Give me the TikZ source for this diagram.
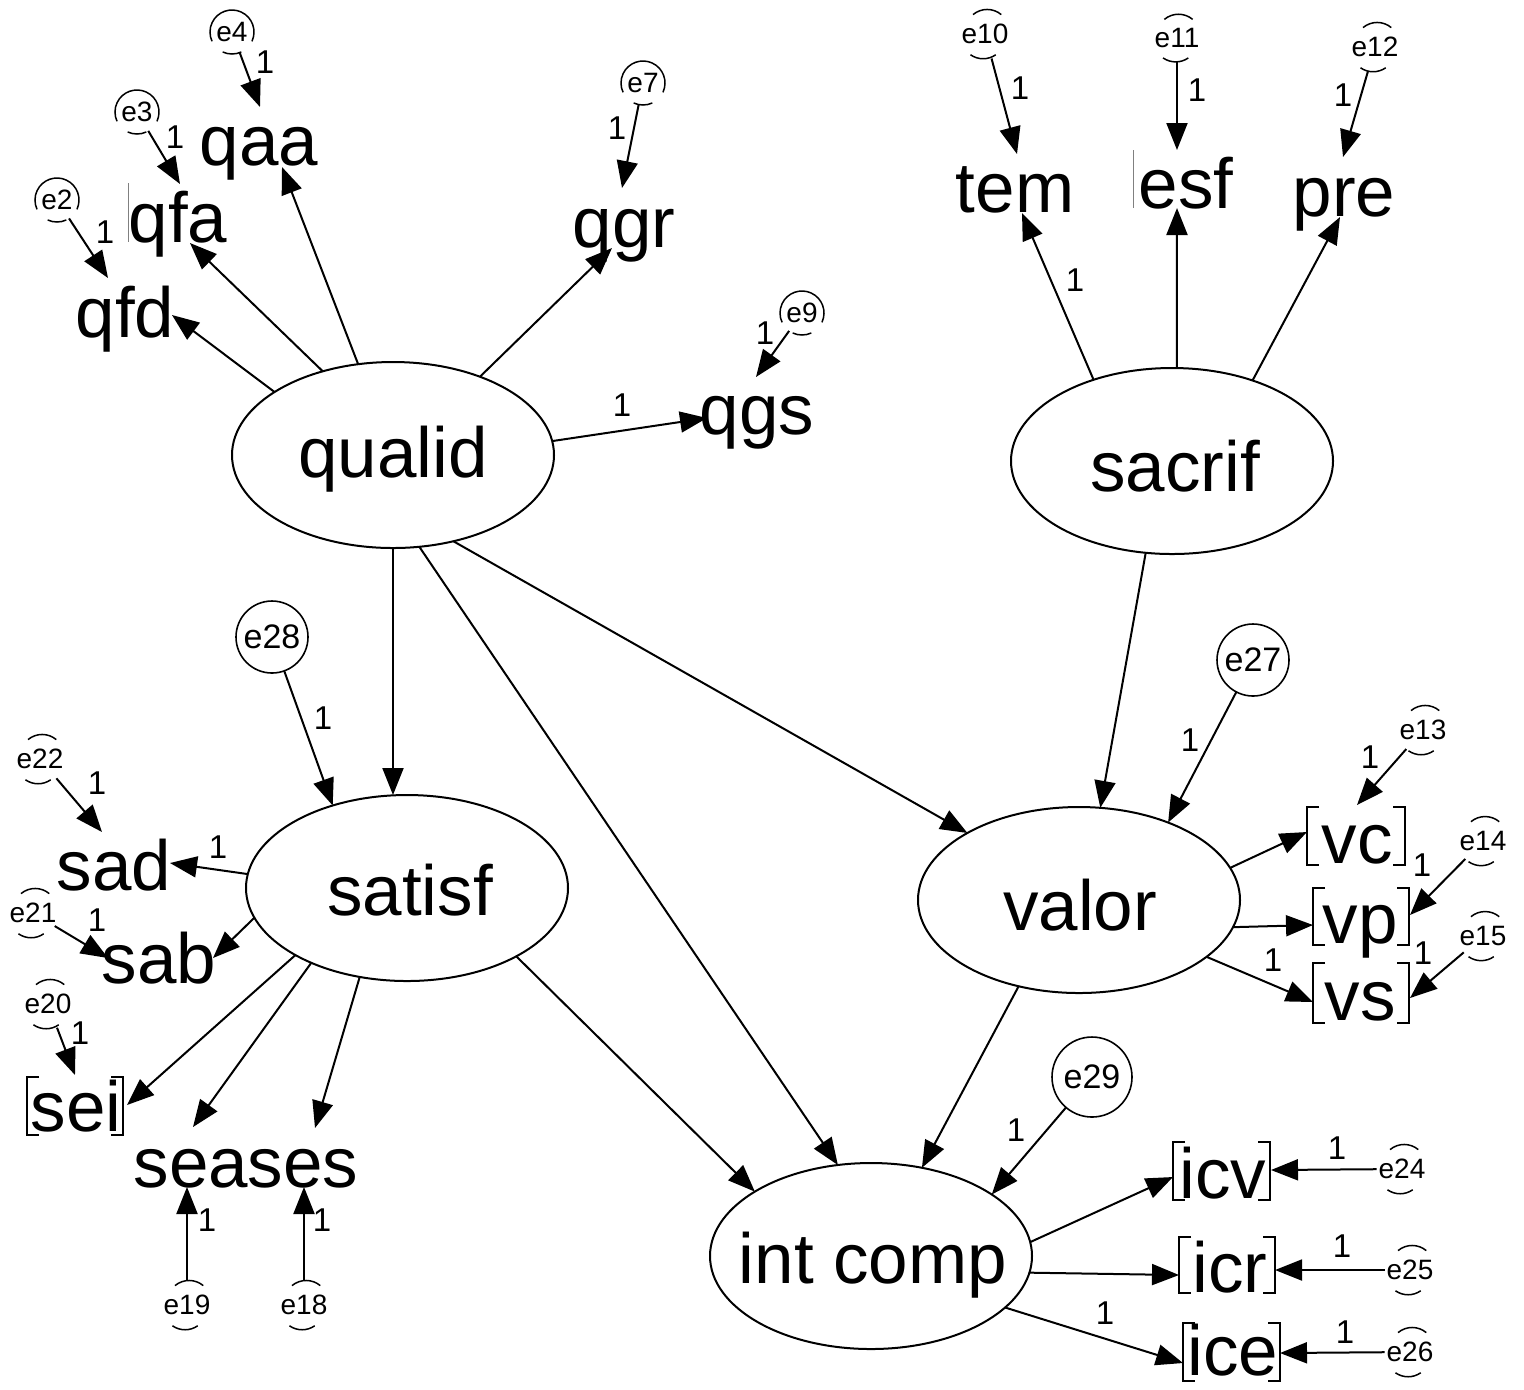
\documentclass[tikz,border=0pt]{standalone}
\usepackage{fontspec}
\setmainfont{Liberation Sans}
\usetikzlibrary{arrows.meta,shapes.geometric}
\newcommand\ErrTB[1]{\draw[ering] (#1.50) arc[start angle=50,end angle=130,radius=22];
  \draw[ering] (#1.235) arc[start angle=235,end angle=305,radius=22];}
\newcommand\ErrMost[1]{\draw[ering] (#1.335) arc[start angle=-25,end angle=205,radius=22];
  \draw[ering] (#1.245) arc[start angle=245,end angle=295,radius=22];}
\newcommand\Brk[4]{\draw[brk] ({#1+12},#3) -- (#1,#3) -- (#1,#4) -- ({#1+12},#4);
  \draw[brk] ({#2-12},#3) -- (#2,#3) -- (#2,#4) -- ({#2-12},#4);}
\begin{document}
\begin{tikzpicture}[x=0.5pt,y=-0.5pt,
  lat/.style={draw, line width=1pt, ellipse, minimum width=161pt, minimum height=93pt, inner sep=0pt, outer sep=0pt},
  big/.style={font=\fontsize{35.5}{40}\selectfont, inner sep=0pt, outer sep=0pt, anchor=base},
  errs/.style={circle, minimum size=22pt, inner sep=0pt, outer sep=0pt, font=\fontsize{14}{15}\selectfont},
  errm/.style={circle, minimum size=22pt, inner sep=0pt, outer sep=0pt, font=\fontsize{14}{15}\selectfont},
  errb/.style={circle, draw, line width=0.8pt, inner sep=0pt, outer sep=0pt, font=\fontsize{17}{18}\selectfont},
  one/.style={font=\fontsize{16.5}{17}\selectfont, inner sep=0pt},
  arr/.style={line width=1pt, -{Triangle[length=13.5pt,width=10.5pt]}},
  ering/.style={line width=0.75pt},
  brk/.style={line width=0.6pt},
  thinmark/.style={line width=0.5pt, gray}
]
\useasboundingbox (0,0) rectangle (1524,1389);

% latent variables
\node[lat] (qualid) at (393,455) {};
\node[lat] (sacrif) at (1172,461) {};
\node[lat] (satisf) at (407,888) {};
\node[lat] (valor) at (1079,900) {};
\node[lat] (intcomp) at (871,1256) {};
\node[big] (qualidT) at (393,477) {qualid};
\node[big] (sacrifT) at (1175,491) {sacrif};
\node[big] (satisfT) at (410,915) {satisf};
\node[big] (valorT) at (1080,930) {valor};
\node[big] (intcompT) at (873,1283) {int comp};

% observed variables
\node[big] (qfd) at (125,337) {qfd};
\node[big] (qfa) at (178,242) {qfa};
\node[big] (qaa) at (259,165) {qaa};
\node[big] (qgr) at (624,247) {qgr};
\node[big] (qgs) at (757,434) {qgs};
\node[big] (tem) at (1015,212) {tem};
\node[big] (esf) at (1186,208) {esf};
\node[big] (pre) at (1344,216) {pre};
\node[big] (sad) at (114,890) {sad};
\node[big] (sab) at (159,983) {sab};
\node[big] (sei) at (76,1131) {sei};
\node[big] (sea) at (191,1187) {sea};
\node[big] (ses) at (303,1187) {ses};
\node[big] (vc) at (1357,863) {vc};
\node[big] (vp) at (1360,943) {vp};
\node[big] (vs) at (1360,1020) {vs};
\node[big] (icv) at (1223,1198) {icv};
\node[big] (icr) at (1230,1292) {icr};
\node[big] (ice) at (1233,1375) {ice};

% remnants of boxes
\draw[thinmark] (128,183) -- (128,242);
\draw[thinmark] (1133,150) -- (1133,208);
\Brk{27}{123}{1077}{1135}
\Brk{1307}{1405}{807}{865}
\Brk{1313}{1409}{888}{945}
\Brk{1313}{1409}{963}{1023}
\Brk{1173}{1270}{1142}{1200}
\Brk{1179}{1275}{1237}{1293}
\Brk{1183}{1280}{1323}{1381}

% error terms
\node[errm] (e2) at (57,200) {e2};
\node[errm] (e3) at (137,112) {e3};
\node[errm] (e4) at (232,32) {e4};
\node[errm] (e7) at (643,83) {e7};
\node[errm] (e9) at (802,313) {e9};
\node[errs] (e10) at (985,34) {e10};
\node[errs] (e11) at (1177,38) {e11};
\node[errs] (e12) at (1375,47) {e12};
\node[errs] (e13) at (1423,730) {e13};
\node[errs] (e14) at (1483,841) {e14};
\node[errs] (e15) at (1483,936) {e15};
\node[errs] (e22) at (40,759) {e22};
\node[errs] (e21) at (33,913) {e21};
\node[errs] (e20) at (48,1004) {e20};
\node[errs] (e19) at (187,1305) {e19};
\node[errs] (e18) at (304,1305) {e18};
\node[errs] (e24) at (1402,1169) {e24};
\node[errs] (e25) at (1410,1270) {e25};
\node[errs] (e26) at (1410,1352) {e26};
\node[errb, minimum size=36pt] (e27) at (1253,660) {e27};
\node[errb, minimum size=36pt] (e28) at (272,637) {e28};
\node[errb, minimum size=40pt] (e29) at (1092,1077) {e29};

\begin{scope}[y=0.5pt]
\ErrMost{e2}\ErrMost{e3}\ErrMost{e4}\ErrMost{e7}\ErrMost{e9}
\ErrTB{e10}\ErrTB{e11}\ErrTB{e12}\ErrTB{e13}\ErrTB{e14}\ErrTB{e15}
\ErrTB{e22}\ErrTB{e21}\ErrTB{e20}\ErrTB{e19}\ErrTB{e18}
\ErrTB{e24}\ErrTB{e25}\ErrTB{e26}
\end{scope}

% arrow tip coordinates
\coordinate (tqfd) at (172,315);
\coordinate (tqfa) at (190,243);
\coordinate (tqaa) at (282,167);
\coordinate (tqgr) at (612,248);
\coordinate (tqgs) at (707,418);
\coordinate (ttem) at (1022,213);
\coordinate (tesf) at (1177,208);
\coordinate (tpre) at (1340,217);
\coordinate (tsad) at (170,863);
\coordinate (tsab) at (213,958);
\coordinate (tsei) at (127,1105);
\coordinate (tsea) at (193,1127);
\coordinate (tses) at (315,1128);
\coordinate (tvc) at (1307,832);
\coordinate (tvp) at (1313,925);
\coordinate (tvs) at (1313,1002);
\coordinate (ticv) at (1173,1177);
\coordinate (ticr) at (1179,1275);
\coordinate (tice) at (1183,1363);
\coordinate (te2) at (108,278);
\coordinate (te3) at (180,184);
\coordinate (te4) at (260,107);
\coordinate (te7) at (622,188);
\coordinate (te9) at (756,377);
\coordinate (te10) at (1017,154);
\coordinate (te11) at (1177,150);
\coordinate (te12) at (1343,157);
\coordinate (te13) at (1357,805);
\coordinate (te14) at (1410,915);
\coordinate (te15) at (1410,998);
\coordinate (te22) at (102,832);
\coordinate (te21) at (108,958);
\coordinate (te20) at (75,1075);
\coordinate (te19) at (187,1187);
\coordinate (te18) at (304,1187);
\coordinate (te24) at (1271,1170);
\coordinate (te25) at (1275,1270);
\coordinate (te26) at (1280,1353);

% structural and loading paths
\draw[arr] (qualid.152) -- (tqfd);
\draw[arr] (qualid.130) -- (tqfa);
\draw[arr] (qualid.111) -- (tqaa);
\draw[arr] (qualid.42) -- (tqgr);
\draw[arr] (qualid.5) -- (tqgs);
\draw[arr] (qualid.south) -- (qualid.south |- satisf.north);
\draw[arr] (qualid.305) -- (valor.149);
\draw[arr] (qualid.286) -- (intcomp.110);
\draw[arr] (sacrif.134) -- (ttem);
\draw[arr] (sacrif.87) -- (tesf);
\draw[arr] (sacrif.45) -- (tpre);
\draw[arr] (sacrif.254) -- (valor.77);
\draw[arr] (satisf.175) -- (tsad);
\draw[arr] (satisf.191) -- (tsab);
\draw[arr] (satisf.211) -- (tsei);
\draw[arr] (satisf.218) -- (tsea);
\draw[arr] (satisf.242) -- (tses);
\draw[arr] (satisf.328) -- (intcomp.151);
\draw[arr] (valor.12) -- (tvc);
\draw[arr] (valor.350) -- (tvp);
\draw[arr] (valor.336) -- (tvs);
\draw[arr] (valor.235) -- (intcomp.60);
\draw[arr] (intcomp.5) -- (ticv);
\draw[arr] (intcomp.354) -- (ticr);
\draw[arr] (intcomp.339) -- (tice);

% error paths
\foreach \e in {e2,e3,e4,e7,e9,e10,e11,e12,e13,e14,e15,e22,e21,e20,e19,e18,e24,e25,e26}
  {\draw[arr] (\e) -- (t\e);}
\draw[arr] (e27) -- (valor.41);
\draw[arr] (e28) -- (satisf.132);
\draw[arr] (e29) -- (intcomp.27);

% labels "1"
\node[one] (l1) at (622,405) {1};
\node[one] (l2) at (105,232) {1};
\node[one] (l3) at (175,137) {1};
\node[one] (l4) at (265,62) {1};
\node[one] (l5) at (617,128) {1};
\node[one] (l6) at (765,333) {1};
\node[one] (l7) at (1020,88) {1};
\node[one] (l8) at (1197,90) {1};
\node[one] (l9) at (1343,95) {1};
\node[one] (l10) at (1075,280) {1};
\node[one] (l11) at (323,718) {1};
\node[one] (l12) at (218,847) {1};
\node[one] (l13) at (97,783) {1};
\node[one] (l14) at (97,920) {1};
\node[one] (l15) at (80,1033) {1};
\node[one] (l16) at (207,1220) {1};
\node[one] (l17) at (322,1220) {1};
\node[one] (l18) at (1190,740) {1};
\node[one] (l19) at (1370,757) {1};
\node[one] (l20) at (1422,865) {1};
\node[one] (l21) at (1423,953) {1};
\node[one] (l22) at (1273,960) {1};
\node[one] (l23) at (1016,1130) {1};
\node[one] (l24) at (1105,1313) {1};
\node[one] (l25) at (1337,1148) {1};
\node[one] (l26) at (1342,1246) {1};
\node[one] (l27) at (1345,1332) {1};
\end{tikzpicture}
\end{document}
